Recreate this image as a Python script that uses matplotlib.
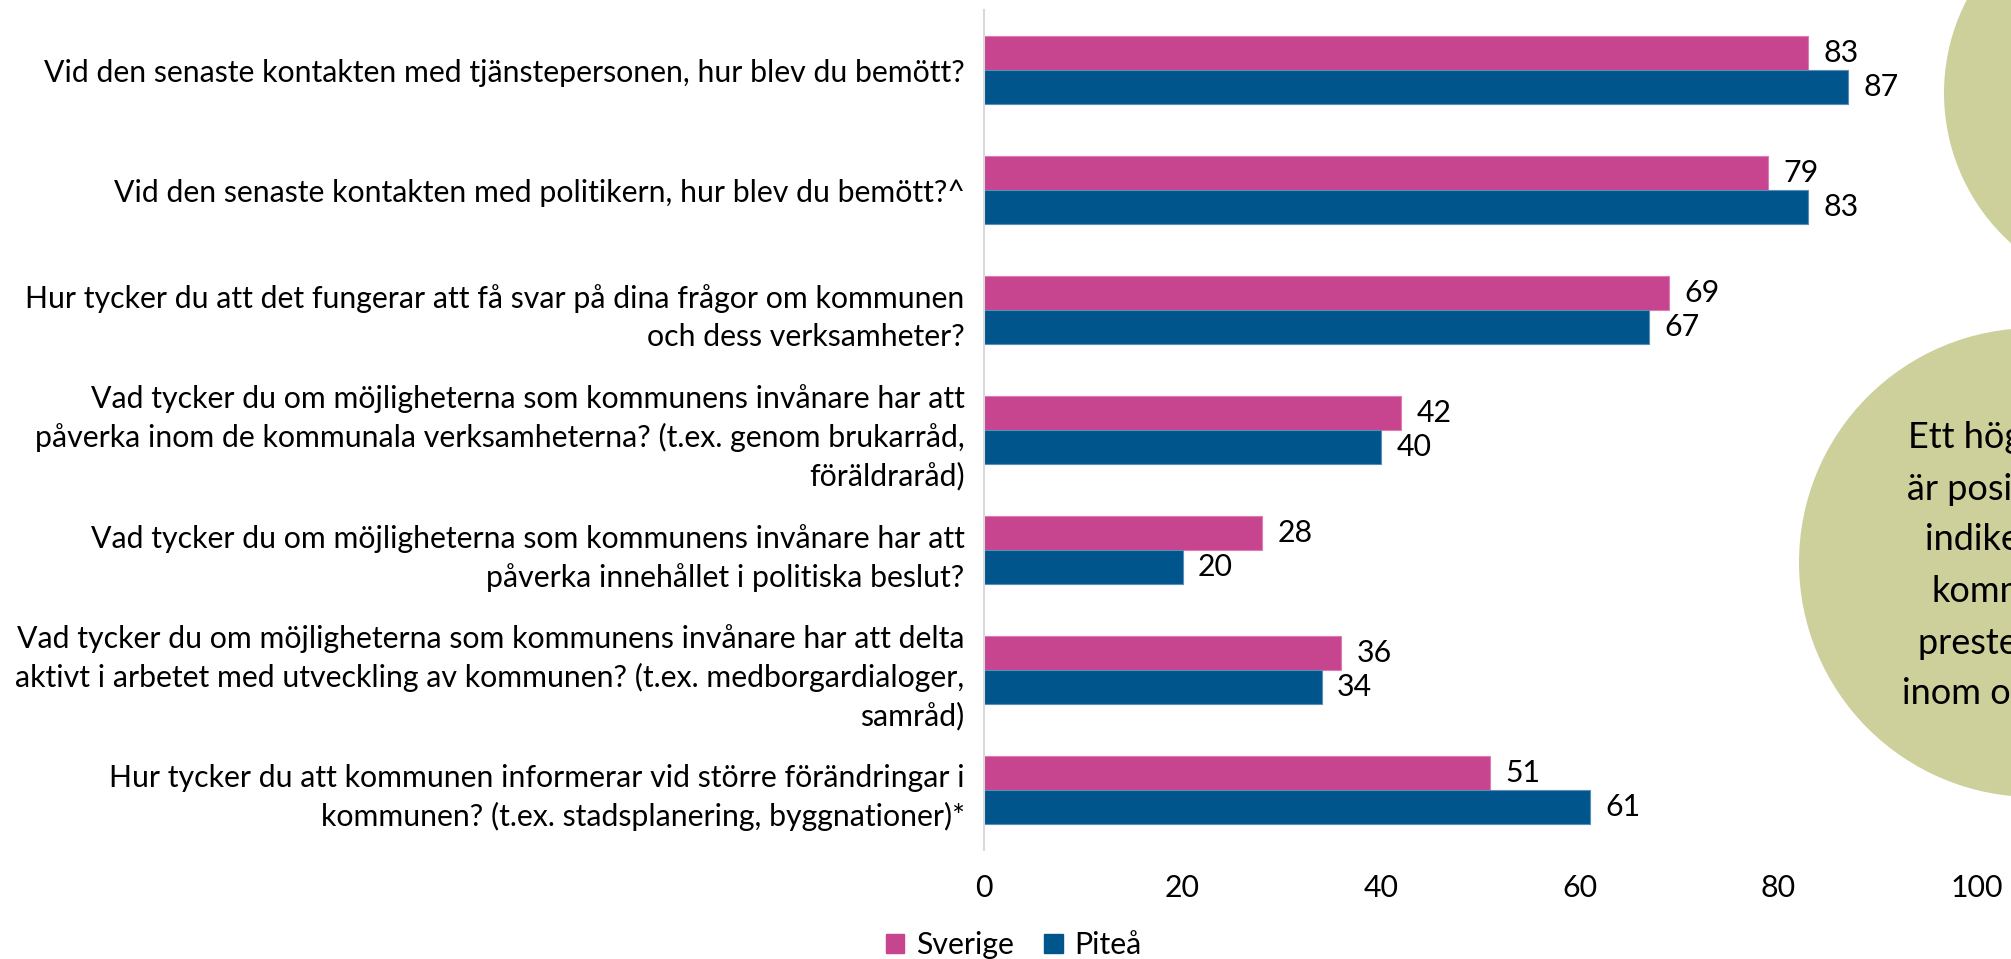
import matplotlib
matplotlib.use("Agg")
import matplotlib.pyplot as plt
from matplotlib.patches import Circle, Patch

plt.rcParams['font.family'] = ['Lato', 'DejaVu Sans']

questions = [
    "Vid den senaste kontakten med tjänstepersonen, hur blev du bemött?",
    "Vid den senaste kontakten med politikern, hur blev du bemött?^",
    "Hur tycker du att det fungerar att få svar på dina frågor om kommunen\noch dess verksamheter?",
    "Vad tycker du om möjligheterna som kommunens invånare har att\npåverka inom de kommunala verksamheterna? (t.ex. genom brukarråd,\nföräldraråd)",
    "Vad tycker du om möjligheterna som kommunens invånare har att\npåverka innehållet i politiska beslut?",
    "Vad tycker du om möjligheterna som kommunens invånare har att delta\naktivt i arbetet med utveckling av kommunen? (t.ex. medborgardialoger,\nsamråd)",
    "Hur tycker du att kommunen informerar vid större förändringar i\nkommunen? (t.ex. stadsplanering, byggnationer)*",
]
sverige = [83, 79, 69, 42, 28, 36, 51]
pitea = [87, 83, 67, 40, 20, 34, 61]
xticks = [0, 20, 40, 60, 80, 100]
circle_lines = ["Ett högt värde", "är positivt och", "indikerar att",
                "kommunen", "presterar bra", "inom området"]

pink = "#C7448F"
blue = "#00558C"
olive = "#CED09B"
fs = 21.8

W, H = 2011, 959
fig = plt.figure(figsize=(W / 100, H / 100), dpi=100)
ax = fig.add_axes([984 / W, 1 - 850 / H, (1977 - 984) / W, 840 / H])

h = 34 / 120
pos = list(range(len(questions)))
b1 = ax.barh([p - h / 2 for p in pos], sverige, height=h, color=pink,
             edgecolor="#E07BB5", linewidth=0.8, label="Sverige")
b2 = ax.barh([p + h / 2 for p in pos], pitea, height=h, color=blue,
             edgecolor="#5B8DB8", linewidth=0.8, label="Piteå")
ax.bar_label(b1, padding=11, fontsize=fs)
ax.bar_label(b2, padding=11, fontsize=fs)

ax.set_xlim(0, 100)
ax.set_ylim(len(questions) - 0.5, -0.5)
ax.set_xticks(xticks)
ax.set_xticklabels([str(t) for t in xticks], fontsize=fs)
ax.set_yticks(pos)
ax.set_yticklabels(questions, fontsize=fs, linespacing=1.42)
ax.tick_params(axis="x", length=0, pad=17)
ax.tick_params(axis="y", length=0, pad=14)
for s in ["top", "right", "bottom"]:
    ax.spines[s].set_visible(False)
ax.spines["left"].set_color("#D9D9D9")
ax.spines["left"].set_linewidth(1.5)

# decorative circles on the right, partly outside the picture
px = fig.dpi_scale_trans
fig.patches.append(Circle((2146 / 100, (H - 93) / 100), 2.02, transform=px,
                          facecolor=olive, edgecolor="none", zorder=0))
fig.patches.append(Circle((2033.5 / 100, (H - 562.5) / 100), 2.345, transform=px,
                          facecolor=olive, edgecolor="none", zorder=0))
line_x = [1908, 1907, 1925, 1932, 1918, 1902]
line_y = [437, 489, 540, 591, 643, 694]
for t, lx, ly in zip(circle_lines, line_x, line_y):
    fig.text(lx / W, 1 - ly / H, t, fontsize=26, ha="left", va="center")

handles = [Patch(color=pink, label="Sverige"), Patch(color=blue, label="Piteå")]
fig.legend(handles=handles, loc="center", bbox_to_anchor=(1014 / W, 1 - 945 / H),
           ncol=2, frameon=False, fontsize=fs, handlelength=0.6, handleheight=0.6,
           handletextpad=0.4, columnspacing=1.0, borderpad=0)

fig.savefig("out.png", dpi=100)
